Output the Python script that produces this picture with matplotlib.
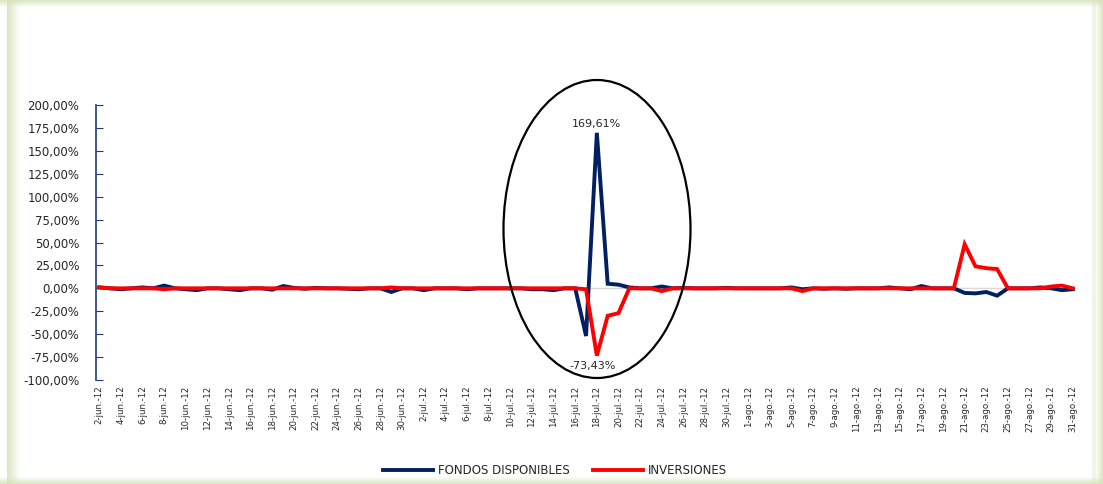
import matplotlib
matplotlib.use('Agg')
import matplotlib.pyplot as plt
from matplotlib.patches import Ellipse, Rectangle
from matplotlib.ticker import FuncFormatter

plt.rcParams['font.family'] = ['DejaVu Sans']

# fechas diarias 2-jun-12 .. 31-ago-12
meses = [('jun', 2, 30), ('jul', 1, 31), ('ago', 1, 31)]
fechas = ['%d-%s.-12' % (d, m) for m, d0, d1 in meses for d in range(d0, d1 + 1)]

fondos = [1, 0, -1, 0, 1, 0, 3, 0, -1, -2,
          0, 0, -1, -2, 0, 0, -1.5, 2.5, 0.5, -0.5,
          0.5, 0, 0, -0.5, -1, 0, 0, -4, 0, 0,
          -2, 0, 0, 0, -1, 0, 0, 0, 0, 0,
          -1, -1, -2, 0, 0, -52, 169.61, 5, 4, 1,
          0, 0, 2, 0, 0.5, 0, 0, 0, 0.5, 0,
          0, 0, 0, 0, 1, -1, 0, -0.5, 0, -0.5,
          0, 0, 0, 1, 0, -1, 2.5, 0, 0, 0,
          -5, -5.5, -4, -8, 0, 0, 0, 1, 0, -2,
          -1]
inversiones = [1, 0, 0, 0, 0, 0, -1, 0, 0, 0,
               0, 0, 0, 0, 0, 0, 0, 0, 0, 0,
               0, 0, 0, 0, 0, 0, 0, 1, 0, 0,
               0, 0, 0, 0, 0, 0, 0, 0, 0, 0,
               0, 0, 0, 0, 0, -1, -73.43, -30, -27, 0,
               0, 0, -3, 0, 0, 0, 0, 0, 0, 0,
               0, 0, 0, 0, 0, -3, 0, 0, 0, 0,
               0, 0, 0, 0, 0, 0, 0, 0, 0, 0,
               48, 24, 22, 21, 0, 0, 0, 0, 2, 3,
               0]

W, H = 1103, 484
fig = plt.figure(figsize=(W / 100, H / 100), dpi=100)
fig.patch.set_facecolor('white')


def banda(x0, y0, w, h, a):
    fig.add_artist(Rectangle((x0 / W, 1 - (y0 + h) / H), w / W, h / H, transform=fig.transFigure,
                             facecolor='#d7e4bd', edgecolor='none', alpha=a))


# marco verde claro (degradado)
for i in range(14):
    a = 0.95 * (1 - i / 14) ** 1.3
    banda(7 + i, 0, 1, H, a)
for i in range(7):
    a = 0.9 * (1 - i / 7)
    banda(0, i, W, 1, a)
    banda(0, H - 1 - i, W, 1, a)
    banda(W - 1 - i, 0, 1, H, a)
banda(W - 11, 0, 4, H, 0.35)

ax = fig.add_axes([96 / W, 1 - 380 / H, (1075 - 96) / W, (380 - 105) / H])
x = list(range(len(fechas)))

ax.axhline(0, color='#d9d9d9', lw=1, zorder=1)
ax.plot(x, fondos, color='#002060', lw=2.8, label='FONDOS DISPONIBLES', zorder=3,
        solid_joinstyle='miter')
ax.plot(x, inversiones, color='#ff0000', lw=2.8, label='INVERSIONES', zorder=4,
        solid_joinstyle='miter')

ax.set_xlim(-0.3, 90.2)
ax.set_ylim(-100, 200)
ax.set_yticks(range(-100, 201, 25))
ax.yaxis.set_major_formatter(FuncFormatter(lambda v, p: ('%.2f%%' % v).replace('.', ',')))
ax.set_xticks(x[::2])
ax.set_xticklabels(fechas[::2], rotation=90, fontsize=6.2, color='#262626')
ax.tick_params(axis='x', length=0, pad=4)
ax.tick_params(axis='y', direction='in', length=5, color='#1f3a7a', labelsize=8.5,
               labelcolor='#262626', pad=12)
for s in ['top', 'right', 'bottom']:
    ax.spines[s].set_visible(False)
ax.spines['left'].set_color('#1f3a7a')
ax.spines['left'].set_linewidth(1.2)
ax.patch.set_alpha(0)

ax.text(46, 174, '169,61%', ha='center', va='bottom', fontsize=8, color='#262626')
ax.text(45.6, -79, '-73,43%', ha='center', va='top', fontsize=8, color='#262626')

fig.add_artist(Ellipse((597 / W, 1 - 229 / H), 187 / W, 298 / H, transform=fig.transFigure,
                       facecolor='none', edgecolor='black', lw=1.6))

leg = fig.legend(loc='center', bbox_to_anchor=(555 / W, 1 - 471 / H), ncol=2, frameon=False,
                 fontsize=8.5, handlelength=4.2, columnspacing=2.0, handletextpad=0.4)
for t in leg.get_texts():
    t.set_color('#262626')

fig.savefig('out.png', dpi=100, facecolor='white')
